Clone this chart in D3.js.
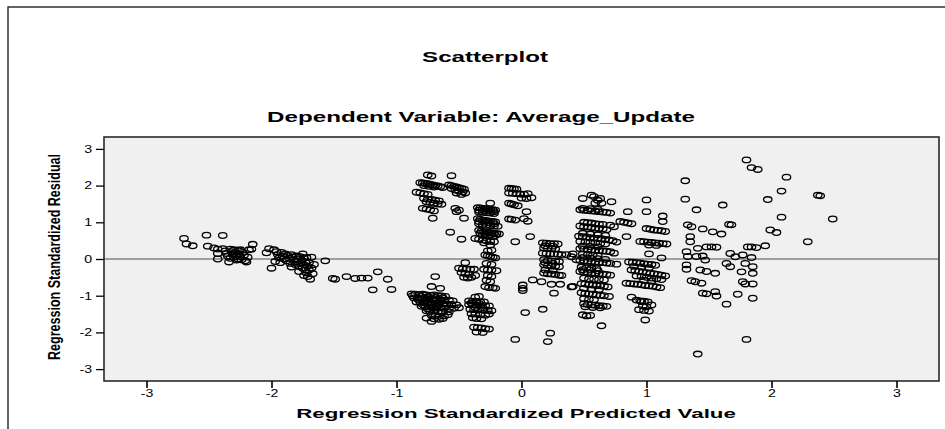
<!DOCTYPE html>
<html>
<head>
<meta charset="utf-8">
<script src="https://cdn.jsdelivr.net/npm/d3@7/dist/d3.min.js"></script>
<style>
  html, body { margin: 0; padding: 0; background: #fff; }
  svg { display: block; }
  text { font-family: "Liberation Sans", Arial, sans-serif; fill: #000; }
</style>
</head>
<body>
<svg id="chart" width="945" height="429"></svg>
<script>
// Standardized predicted value (x) vs standardized residual (y), grouped by region
const xTicks = [-3, -2, -1, 0, 1, 2, 3];
const yTicks = [-3, -2, -1, 0, 1, 2, 3];
const xExtent = [-3.34, 3.34];
const yExtent = [-3.324, 3.324];

const titleText = "Scatterplot";
const subtitleText = "Dependent Variable: Average_Update";
const xTitle = "Regression Standardized Predicted Value";
const yTitle = "Regression Standardized Residual";

const groupFarLeft = [
  [-2.70,0.56],[-2.68,0.41],[-2.63,0.36],[-2.52,0.65],[-2.39,0.64],[-2.51,0.35],[-2.46,0.30],
  [-2.43,0.27],[-2.43,0.15],[-2.43,0.00],[-2.39,0.28],[-2.37,0.22],[-2.36,0.15],[-2.35,0.08],
  [-2.34,-0.08],[-2.33,0.27],[-2.32,0.20],[-2.31,0.12],[-2.30,0.05],[-2.30,0.25],[-2.29,0.18],
  [-2.28,0.10],[-2.27,0.00],[-2.26,0.22],[-2.26,0.14],[-2.25,0.06],[-2.24,-0.02],[-2.23,0.18],
  [-2.22,0.10],[-2.21,-0.05],[-2.20,-0.08],[-2.19,0.05],[-2.18,0.25],[-2.16,0.27],[-2.15,0.40],
  [-2.28,-0.03],[-2.33,0.02],[-2.25,0.25]
];

const groupLeft = [
  [-2.04,0.17],[-2.02,0.28],[-2.00,-0.25],[-1.98,0.25],[-1.97,-0.07],[-1.96,0.20],[-1.95,0.12],
  [-1.94,0.03],[-1.93,-0.10],[-1.92,0.18],[-1.91,0.08],[-1.90,0.00],[-1.89,0.14],[-1.88,-0.05],
  [-1.87,0.10],[-1.86,0.02],[-1.85,-0.12],[-1.84,0.12],[-1.83,0.05],[-1.82,-0.03],[-1.81,-0.15],
  [-1.80,0.08],[-1.80,-0.08],[-1.79,0.00],[-1.78,-0.20],[-1.77,0.06],[-1.77,-0.12],[-1.76,-0.04],
  [-1.75,-0.25],[-1.75,0.14],[-1.74,0.02],[-1.74,-0.16],[-1.73,-0.30],[-1.73,-0.08],[-1.72,0.04],
  [-1.72,-0.38],[-1.71,-0.20],[-1.71,-0.48],[-1.70,-0.10],[-1.70,-0.30],[-1.69,-0.55],[-1.68,-0.25],
  [-1.68,0.05],[-1.67,-0.40],[-1.66,-0.15],[-1.84,-0.22],[-1.78,-0.34],[-1.74,-0.45],
  [-1.57,-0.05],[-1.51,-0.53],[-1.49,-0.55],[-1.40,-0.48],[-1.33,-0.53],[-1.28,-0.52],
  [-1.23,-0.52],[-1.15,-0.35],[-1.19,-0.84],[-1.07,-0.55],[-1.04,-0.83]
];

const groupLowerMid = [
  [-0.69,-0.48],[-0.72,-0.75],[-0.65,-0.80],
  [-0.88,-0.95],[-0.85,-0.96],[-0.82,-0.97],[-0.79,-0.96],[-0.76,-0.98],[-0.73,-0.99],[-0.70,-0.98],
  [-0.67,-1.00],[-0.64,-1.01],[-0.61,-1.02],
  [-0.86,-1.06],[-0.83,-1.07],[-0.80,-1.08],[-0.77,-1.07],[-0.74,-1.09],[-0.71,-1.10],[-0.68,-1.10],
  [-0.65,-1.11],[-0.62,-1.12],[-0.58,-1.12],[-0.55,-1.14],
  [-0.84,-1.17],[-0.81,-1.18],[-0.78,-1.19],[-0.75,-1.19],[-0.72,-1.20],[-0.69,-1.21],[-0.66,-1.21],
  [-0.63,-1.22],[-0.60,-1.23],[-0.56,-1.24],[-0.52,-1.25],
  [-0.80,-1.29],[-0.77,-1.30],[-0.74,-1.31],[-0.71,-1.32],[-0.68,-1.32],[-0.65,-1.33],[-0.62,-1.34],
  [-0.58,-1.35],[-0.54,-1.34],[-0.50,-1.33],
  [-0.76,-1.41],[-0.73,-1.43],[-0.70,-1.42],[-0.67,-1.44],[-0.63,-1.45],[-0.58,-1.44],
  [-0.72,-1.53],[-0.69,-1.55],[-0.66,-1.56],[-0.62,-1.55],[-0.59,-1.52],
  [-0.76,-1.61],[-0.70,-1.63],[-0.66,-1.64],[-0.63,-1.62],[-0.72,-1.70],
  [-0.37,-1.04],[-0.34,-1.02],
  [-0.42,-1.14],[-0.39,-1.15],[-0.36,-1.16],[-0.33,-1.17],[-0.30,-1.17],
  [-0.42,-1.24],[-0.39,-1.25],[-0.36,-1.26],[-0.33,-1.27],[-0.29,-1.27],[-0.26,-1.28],
  [-0.41,-1.37],[-0.38,-1.38],[-0.35,-1.39],[-0.31,-1.38],[-0.27,-1.40],[-0.24,-1.41],
  [-0.40,-1.49],[-0.37,-1.50],[-0.33,-1.52],[-0.29,-1.53],[-0.26,-1.50],
  [-0.39,-1.60],[-0.36,-1.62],[-0.32,-1.63],
  [-0.38,-1.86],[-0.35,-1.87],[-0.32,-1.88],[-0.29,-1.90],[-0.26,-1.91],[-0.36,-1.99],[-0.31,-2.00],
  [-0.45,-0.10],[-0.50,-0.25],[-0.47,-0.27],[-0.44,-0.27],[-0.41,-0.28],[-0.38,-0.28],[-0.48,-0.37],
  [-0.45,-0.40],[-0.42,-0.42],[-0.46,-0.50],[-0.43,-0.52],[-0.40,-0.50],[-0.37,-0.45],
  [-0.28,-0.12],[-0.24,-0.15],[-0.30,-0.28],[-0.27,-0.30],[-0.24,-0.30],[-0.20,-0.32],[-0.27,-0.45],
  [-0.24,-0.48],[-0.28,-0.58],[-0.25,-0.62],[-0.29,-0.75],[-0.26,-0.78],[-0.23,-0.78],[-0.21,-0.80],
  [-0.87,-1.00],[-0.81,-1.02],[-0.75,-1.03],[-0.69,-1.05],[-0.63,-1.06],[-0.82,-1.12],[-0.76,-1.14],
  [-0.70,-1.15],[-0.64,-1.16],[-0.79,-1.24],[-0.73,-1.25],[-0.67,-1.27],[-0.61,-1.28],[-0.75,-1.36],
  [-0.69,-1.37],[-0.40,-1.20],[-0.34,-1.21],[-0.37,-1.32],[-0.31,-1.33]
];

const groupUpperMid = [
  [-0.75,2.29],[-0.72,2.26],[-0.56,2.27],
  [-0.81,2.08],[-0.79,2.07],[-0.77,2.06],[-0.75,2.05],[-0.73,2.03],[-0.71,2.02],[-0.69,2.00],
  [-0.67,1.99],[-0.65,1.97],[-0.63,1.95],[-0.78,2.00],[-0.74,1.98],[-0.70,1.96],
  [-0.58,2.02],[-0.56,2.00],[-0.54,1.98],[-0.52,1.96],[-0.50,1.94],[-0.48,1.92],[-0.46,1.90],
  [-0.56,1.92],[-0.53,1.88],[-0.50,1.85],[-0.47,1.83],[-0.45,1.80],[-0.52,1.80],[-0.48,1.76],
  [-0.84,1.82],[-0.81,1.80],[-0.78,1.78],[-0.75,1.76],
  [-0.78,1.65],[-0.75,1.63],[-0.72,1.62],[-0.69,1.60],[-0.66,1.58],[-0.76,1.56],[-0.73,1.54],
  [-0.70,1.52],[-0.67,1.50],[-0.64,1.49],
  [-0.79,1.38],[-0.76,1.36],[-0.73,1.34],[-0.70,1.31],[-0.71,1.11],
  [-0.53,1.38],[-0.52,1.29],[-0.50,1.33],[-0.46,1.11],[-0.57,0.73],[-0.48,0.54],
  [-0.25,1.52],
  [-0.35,1.40],[-0.33,1.39],[-0.31,1.38],[-0.29,1.37],[-0.27,1.36],[-0.25,1.35],[-0.23,1.34],
  [-0.21,1.33],[-0.34,1.28],[-0.31,1.27],[-0.28,1.26],[-0.25,1.25],[-0.22,1.24],
  [-0.35,1.10],[-0.33,1.08],[-0.31,1.06],[-0.29,1.05],[-0.27,1.04],[-0.25,1.03],[-0.23,1.02],
  [-0.21,1.01],[-0.34,0.96],[-0.31,0.94],[-0.28,0.92],[-0.25,0.91],[-0.22,0.90],[-0.19,0.89],
  [-0.34,0.78],[-0.32,0.76],[-0.30,0.74],[-0.28,0.73],[-0.26,0.72],[-0.24,0.71],[-0.22,0.70],
  [-0.20,0.69],[-0.18,0.68],[-0.31,0.64],[-0.27,0.62],[-0.23,0.61],
  [-0.37,0.56],[-0.34,0.54],[-0.31,0.52],[-0.28,0.50],[-0.25,0.48],[-0.22,0.47],[-0.30,0.44],
  [-0.25,0.38],[-0.24,0.24],[-0.27,0.22],
  [-0.29,0.11],[-0.27,0.09],[-0.25,0.07],[-0.23,0.05],[-0.21,0.03],
  [-0.34,1.33],[-0.30,1.32],[-0.26,1.31],[-0.22,1.29],[-0.34,1.02],[-0.30,1.00],[-0.26,0.98],
  [-0.22,0.96],[-0.33,0.70],[-0.29,0.68],[-0.25,0.66],[-0.21,0.64],
  [-0.10,1.93],[-0.08,1.92],[-0.06,1.91],[-0.04,1.90],
  [-0.10,1.80],[-0.07,1.79],[-0.04,1.78],[-0.01,1.77],[0.02,1.76],[0.05,1.78],
  [0.00,1.66],[0.04,1.65],[0.08,1.67],
  [-0.10,1.52],[-0.08,1.50],[-0.06,1.48],[-0.03,1.45],[0.04,1.29],
  [-0.10,1.09],[-0.08,1.08],[-0.05,1.06],[0.02,1.10],[0.05,1.03],
  [-0.05,0.47],[0.07,0.61]
];

const groupCentre = [
  [0.17,0.44],[0.20,0.43],[0.23,0.42],[0.26,0.42],[0.29,0.41],
  [0.18,0.30],[0.21,0.29],[0.24,0.28],[0.27,0.27],
  [0.17,0.16],[0.20,0.15],[0.23,0.14],[0.26,0.14],[0.29,0.13],[0.32,0.12],
  [0.18,-0.02],[0.21,-0.04],[0.24,-0.05],[0.27,-0.06],[0.30,-0.07],
  [0.18,-0.16],[0.21,-0.18],[0.24,-0.19],[0.27,-0.20],[0.30,-0.21],
  [0.18,-0.38],[0.21,-0.40],[0.24,-0.41],[0.27,-0.42],[0.30,-0.44],[0.32,-0.45],
  [0.19,0.36],[0.25,0.35],[0.19,-0.10],[0.25,-0.12],[0.19,-0.30],[0.25,-0.31],
  [0.09,-0.57],[0.16,-0.62],[0.24,-0.69],[0.31,-0.69],[0.26,-0.93],[0.40,-0.76],
  [0.01,-0.71],[0.01,-0.80],[0.01,-0.86],[0.03,-1.46],[-0.05,-2.19],[0.17,-1.37],
  [0.23,-2.02],[0.21,-2.25],[0.40,0.06],[0.41,-0.75],[0.41,0.14],[0.36,0.12]
];

const groupRightA = [
  [0.49,1.65],[0.56,1.74],[0.58,1.70],[0.63,1.65],[0.59,1.52],[0.64,1.52],[0.72,1.56],[0.61,1.60],
  [0.47,1.34],[0.50,1.33],[0.53,1.32],[0.56,1.31],[0.59,1.30],[0.62,1.29],[0.65,1.28],[0.68,1.27],[0.71,1.25],
  [0.50,1.00],[0.53,0.99],[0.56,0.98],[0.59,0.96],[0.62,0.95],[0.65,0.94],[0.71,0.92],[0.74,0.88],
  [0.47,0.90],[0.50,0.88],[0.53,0.87],[0.56,0.86],[0.59,0.84],[0.62,0.83],[0.65,0.82],[0.68,0.80],
  [0.46,0.62],[0.49,0.61],[0.52,0.60],[0.55,0.58],[0.58,0.57],[0.61,0.56],[0.64,0.55],[0.67,0.53],
  [0.70,0.52],[0.73,0.50],[0.76,0.46],
  [0.47,0.48],[0.51,0.46],[0.55,0.45],[0.59,0.44],[0.63,0.42],[0.67,0.41],
  [0.47,0.28],[0.50,0.27],[0.53,0.26],[0.56,0.25],[0.59,0.24],[0.62,0.23],[0.65,0.22],[0.68,0.21],
  [0.71,0.20],[0.74,0.16],
  [0.49,0.13],[0.53,0.12],[0.57,0.10],[0.61,0.09],
  [0.44,-0.02],[0.47,-0.04],[0.50,-0.05],[0.53,-0.06],[0.56,-0.07],[0.59,-0.08],[0.62,-0.09],
  [0.65,-0.10],[0.68,-0.11],[0.71,-0.12],[0.76,-0.14],
  [0.48,-0.22],[0.52,-0.24],[0.56,-0.25],[0.60,-0.26],
  [0.47,-0.34],[0.50,-0.36],[0.53,-0.37],[0.56,-0.38],[0.59,-0.39],[0.62,-0.40],[0.65,-0.41],
  [0.68,-0.42],[0.71,-0.44],
  [0.50,-0.52],[0.54,-0.54],[0.58,-0.55],[0.62,-0.56],[0.66,-0.57],
  [0.48,-0.67],[0.51,-0.68],[0.54,-0.70],[0.57,-0.71],[0.60,-0.72],[0.63,-0.73],[0.66,-0.74],[0.69,-0.76],
  [0.48,-0.92],[0.51,-0.94],[0.54,-0.95],[0.57,-0.96],[0.60,-0.98],[0.63,-0.99],[0.66,-1.00],[0.70,-1.02],
  [0.50,-1.08],[0.54,-1.10],[0.58,-1.11],
  [0.50,-1.22],[0.53,-1.24],[0.56,-1.25],[0.59,-1.26],[0.62,-1.27],[0.65,-1.28],[0.68,-1.29],
  [0.49,-1.52],[0.52,-1.55],[0.55,-1.54],[0.64,-1.82],
  [0.49,1.38],[0.55,1.37],[0.61,1.35],[0.49,0.70],[0.55,0.68],[0.61,0.66],[0.67,0.64],
  [0.49,0.35],[0.55,0.34],[0.61,0.33],[0.49,0.04],[0.55,0.02],[0.61,0.01],[0.67,-0.01],
  [0.49,-0.29],[0.55,-0.30],[0.61,-0.32],[0.50,-0.80],[0.56,-0.82],[0.62,-0.83],
  [0.51,-1.30],[0.57,-1.32],[0.63,-1.33]
];

const groupRightB = [
  [0.85,1.29],[1.00,1.61],[1.00,1.29],[1.13,1.17],[1.13,1.02],
  [0.79,1.02],[0.82,1.00],[0.85,0.98],[0.88,0.96],
  [1.00,0.83],[1.03,0.81],[1.06,0.79],[1.09,0.78],[1.12,0.77],[1.15,0.75],
  [0.84,0.61],
  [0.95,0.48],[0.98,0.47],[1.01,0.46],[1.04,0.45],[1.07,0.44],[1.10,0.43],[1.13,0.42],[1.16,0.41],
  [1.02,0.14],[1.12,0.03],
  [0.86,-0.08],[0.89,-0.09],[0.92,-0.10],[0.95,-0.11],[0.98,-0.13],[1.01,-0.14],[1.04,-0.15],[1.07,-0.17],
  [0.88,-0.30],[0.91,-0.32],[0.94,-0.34],[0.97,-0.35],[1.00,-0.37],[1.03,-0.39],[1.06,-0.40],
  [1.09,-0.42],[1.12,-0.44],[1.15,-0.46],
  [0.92,-0.46],[0.96,-0.48],[1.00,-0.50],[1.04,-0.52],[1.08,-0.54],[1.12,-0.56],
  [0.84,-0.66],[0.87,-0.67],[0.90,-0.68],[0.93,-0.69],[0.96,-0.70],[0.99,-0.72],[1.02,-0.73],
  [1.05,-0.74],[1.08,-0.76],[1.11,-0.78],
  [0.88,-1.04],[0.96,-1.16],
  [0.92,-1.12],[0.95,-1.14],[0.98,-1.15],[1.01,-1.17],[1.04,-1.25],[0.97,-1.28],[1.00,-1.30],
  [0.94,-1.38],[0.98,-1.40],[1.02,-1.42],[0.99,-1.66],
  [1.02,0.38],[1.08,0.37],[0.90,-0.20],[0.96,-0.22],[1.02,-0.24],[0.98,-0.58],[1.04,-0.60]
];

const groupFarRight = [
  [1.31,2.13],[1.31,1.63],[1.40,1.34],[1.61,1.47],[1.33,0.93],[1.36,0.88],[1.45,0.82],[1.53,0.74],
  [1.60,0.68],[1.35,0.61],[1.35,0.47],[1.48,0.33],[1.52,0.33],[1.56,0.32],[1.41,0.29],[1.32,0.20],
  [1.33,0.07],[1.40,0.07],[1.45,0.08],[1.47,-0.03],[1.32,-0.16],[1.32,-0.28],[1.43,-0.30],
  [1.48,-0.34],[1.55,-0.39],[1.36,-0.59],[1.39,-0.62],[1.44,-0.66],[1.45,-0.93],[1.48,-0.95],
  [1.55,-0.89],[1.56,-1.01],[1.64,-1.23],[1.41,-2.59],
  [1.80,2.70],[1.84,2.49],[1.89,2.44],[1.68,0.93],[1.66,0.94],[1.81,0.33],[1.84,0.33],[1.88,0.31],
  [1.67,0.15],[1.71,0.06],[1.77,0.11],[1.84,0.04],[1.64,-0.12],[1.67,-0.21],[1.79,-0.12],
  [1.85,-0.21],[1.76,-0.35],[1.85,-0.39],[1.77,-0.62],[1.79,-0.68],[1.85,-0.68],[1.73,-0.96],
  [1.85,-1.07],[1.80,-2.19],
  [1.95,0.36],[1.97,1.62],[1.99,0.79],[2.04,0.72],[2.08,1.14],[2.08,1.85],[2.12,2.23],
  [2.29,0.47],[2.37,1.74],[2.39,1.72],[2.49,1.09]
];

const points = [].concat(groupFarLeft, groupLeft, groupLowerMid, groupUpperMid,
                         groupCentre, groupRightA, groupRightB, groupFarRight);

const svg = d3.select("#chart");

// Outer chart frame (runs off the right and bottom edges)
svg.append("rect")
  .attr("x", 8).attr("y", 7).attr("width", 1000).attr("height", 500)
  .attr("fill", "none").attr("stroke", "#222").attr("stroke-width", 1.4);

const plot = { left: 104, right: 939, top: 137, bottom: 381 };

const x = d3.scaleLinear().domain(xExtent).range([plot.left, plot.right]);
const y = d3.scaleLinear().domain(yExtent).range([plot.bottom, plot.top]);

// Plot background
svg.append("rect")
  .attr("x", plot.left).attr("y", plot.top)
  .attr("width", plot.right - plot.left).attr("height", plot.bottom - plot.top)
  .attr("fill", "#f0f0f0");

// Zero-residual reference line
svg.append("line")
  .attr("x1", x(xExtent[0])).attr("x2", x(xExtent[1]))
  .attr("y1", y(0)).attr("y2", y(0))
  .attr("stroke", "#858585").attr("stroke-width", 1.6);

// Markers: open ellipses
svg.append("g")
  .selectAll("ellipse")
  .data(points)
  .join("ellipse")
  .attr("cx", d => x(d[0]))
  .attr("cy", d => y(d[1]))
  .attr("rx", 4.2).attr("ry", 2.8)
  .attr("fill", "none")
  .attr("stroke", "#000")
  .attr("stroke-width", 1.3);

// Plot border
svg.append("rect")
  .attr("x", plot.left).attr("y", plot.top)
  .attr("width", plot.right - plot.left).attr("height", plot.bottom - plot.top)
  .attr("fill", "none").attr("stroke", "#2a2a2a").attr("stroke-width", 1.6);

const tickStretch = 1.35;

// X axis
const gx = svg.append("g")
  .attr("transform", `translate(0,${plot.bottom})`)
  .call(d3.axisBottom(x).tickValues(xTicks).tickSize(7).tickPadding(2).tickFormat(d => String(d)));
gx.select(".domain").remove();
gx.selectAll(".tick line").attr("stroke", "#000").attr("stroke-width", 1.6);
gx.selectAll(".tick text")
  .attr("font-size", 10.5)
  .attr("font-family", "'Liberation Sans', Arial, sans-serif")
  .attr("fill", "#000")
  .attr("transform", `scale(${tickStretch},1)`)
  .attr("x", 0);

// Y axis
const gy = svg.append("g")
  .attr("transform", `translate(${plot.left},0)`)
  .call(d3.axisLeft(y).tickValues(yTicks).tickSize(8).tickPadding(4).tickFormat(d => String(d)));
gy.select(".domain").remove();
gy.selectAll(".tick line").attr("stroke", "#000").attr("stroke-width", 1.3);
gy.selectAll(".tick text")
  .attr("font-size", 10.5)
  .attr("font-family", "'Liberation Sans', Arial, sans-serif")
  .attr("fill", "#000")
  .attr("transform", `scale(${tickStretch},1)`)
  .attr("x", -12 / tickStretch);

// Horizontally stretched bold text centred at (cx, baseline)
function stretchedLabel(text, cx, baseline, size, width) {
  const t = svg.append("text")
    .attr("text-anchor", "middle")
    .attr("font-weight", "bold")
    .attr("font-size", size)
    .text(text);
  const w = t.node().getComputedTextLength();
  t.attr("transform", `translate(${cx},${baseline}) scale(${width / w},1)`);
  return t;
}

stretchedLabel(titleText, 485, 62, 14.5, 126);
stretchedLabel(subtitleText, 481, 122, 15, 428);
stretchedLabel(xTitle, 516, 418, 13.5, 440);

// Vertical axis title
svg.append("text")
  .attr("text-anchor", "middle")
  .attr("font-weight", "bold")
  .attr("font-size", 13)
  .attr("textLength", 206)
  .attr("lengthAdjust", "spacingAndGlyphs")
  .attr("transform", "translate(60,257) scale(1.2,1) rotate(-90)")
  .text(yTitle);
</script>
</body>
</html>
